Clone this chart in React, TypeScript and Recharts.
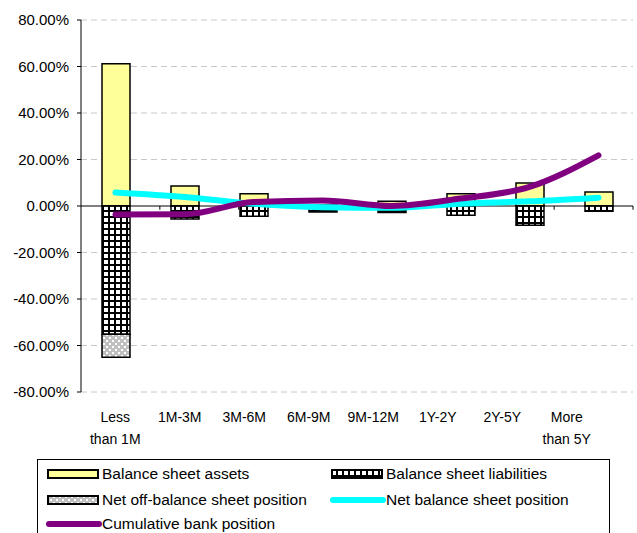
import React from "react";
import {
  Bar,
  CartesianGrid,
  ComposedChart,
  Line,
  ReferenceLine,
  XAxis,
  YAxis,
} from "recharts";

const CATEGORIES = [
  "Less than 1M",
  "1M-3M",
  "3M-6M",
  "6M-9M",
  "9M-12M",
  "1Y-2Y",
  "2Y-5Y",
  "More than 5Y",
];
const ASSETS = [61.2, 8.6, 5.3, 0.4, 2.0, 5.3, 9.9, 6.0];
const LIABILITIES = [-55.2, -5.6, -4.4, -2.6, -2.8, -4.0, -8.3, -2.3];
const OFF_BALANCE = [-9.8, 0, 0, 0, 0, 0, 0, 0];
const NET_BALANCE = [5.8, 3.9, 1.0, -0.5, -0.8, 1.0, 2.0, 3.6];
const CUMULATIVE = [-3.7, -3.6, 1.7, 2.4, 0.0, 3.2, 8.2, 21.8];
const Y_TICKS = [-80, -60, -40, -20, 0, 20, 40, 60, 80];

const data = CATEGORIES.map((name, i) => ({
  name,
  assets: ASSETS[i],
  liabilities: LIABILITIES[i],
  offBalance: OFF_BALANCE[i],
  net: NET_BALANCE[i],
  cumulative: CUMULATIVE[i],
}));

const FONT = "'Liberation Sans', Arial, sans-serif";
const YELLOW = "#ffff99";
const CYAN = "#00ffff";
const PURPLE = "#800080";

function Patterns({ prefix }: { prefix: string }) {
  return (
    <defs>
      <pattern id={`${prefix}grid`} width="6" height="6" patternUnits="userSpaceOnUse">
        <rect width="6" height="6" fill="#000" />
        <rect x="2" y="2" width="4" height="4" fill="#fff" />
      </pattern>
      <pattern id={`${prefix}dots`} width="6" height="6" patternUnits="userSpaceOnUse">
        <rect width="6" height="6" fill="#c0c0c0" />
        <rect x="1" y="1" width="2" height="2" fill="#fff" />
        <rect x="4" y="4" width="2" height="2" fill="#fff" />
      </pattern>
    </defs>
  );
}

// category names with a space wrap onto two lines, like the original
function XTick(props: any) {
  const { x, y, payload } = props;
  const label: string = payload.value;
  const sp = label.indexOf(" ");
  const lines = sp > 0 ? [label.slice(0, sp), label.slice(sp + 1)] : [label];
  return (
    <text x={x} y={y} textAnchor="middle" fontSize={14} fontFamily={FONT} fill="#000">
      {lines.map((l, i) => (
        <tspan key={i} x={x} dy={i === 0 ? -8 : 22}>
          {l}
        </tspan>
      ))}
    </text>
  );
}

function LegendSwatch({ kind }: { kind: string }) {
  if (kind === "net" || kind === "cum") {
    return (
      <svg width={56} height={10} style={{ display: "block" }}>
        <line x1={3} y1={5} x2={53} y2={5} stroke={kind === "net" ? CYAN : PURPLE} strokeWidth={6} strokeLinecap="round" />
      </svg>
    );
  }
  const fill = kind === "assets" ? YELLOW : kind === "liab" ? "url(#lg-grid)" : "url(#lg-dots)";
  return (
    <svg width={56} height={10} style={{ display: "block" }}>
      <Patterns prefix="lg-" />
      <rect x={2} y={1} width={50} height={8} fill={fill} stroke="#000" strokeWidth={2} />
    </svg>
  );
}

function LegendItem({ kind, label, left, top }: { kind: string; label: string; left: number; top: number }) {
  return (
    <div style={{ position: "absolute", left, top, display: "flex", alignItems: "center", whiteSpace: "nowrap" }}>
      <LegendSwatch kind={kind} />
      <span style={{ fontSize: 15.5, fontFamily: FONT, lineHeight: "18px" }}>{label}</span>
    </div>
  );
}

export default function App() {
  return (
    <div
      style={{
        position: "absolute",
        left: 0,
        top: 0,
        width: 637,
        height: 533,
        overflow: "hidden",
        background: "#fff",
      }}
    >
      <ComposedChart
        width={637}
        height={533}
        data={data}
        stackOffset="sign"
        margin={{ top: 20, right: 4, bottom: 81, left: 0 }}
        barSize={28}
      >
        <Patterns prefix="ch-" />
        <CartesianGrid
          vertical={false}
          stroke="#c8c8c8"
          strokeDasharray="6 4"
          horizontalValues={Y_TICKS.filter((t) => t !== 0)}
        />
        <XAxis dataKey="name" hide />
        <XAxis xAxisId="num" type="number" domain={[0, CATEGORIES.length]} hide />
        <XAxis
          xAxisId="lab"
          dataKey="name"
          axisLine={false}
          tickLine={false}
          interval={0}
          height={60}
          padding={{ left: 2, right: 34 }}
          tick={<XTick />}
        />
        <YAxis
          width={81}
          domain={[-80, 80]}
          ticks={Y_TICKS}
          interval={0}
          tickFormatter={(v: number) => `${v.toFixed(2)}%`}
          axisLine={{ stroke: "#000", strokeWidth: 1 }}
          tickLine={{ stroke: "#000" }}
          tickSize={4}
          tickMargin={8}
          tick={{ fontSize: 15, fontFamily: FONT, fill: "#000" }}
        />
        <Bar dataKey="assets" stackId="a" fill={YELLOW} stroke="#000" strokeWidth={1.5} isAnimationActive={false} />
        <Bar dataKey="liabilities" stackId="a" fill="url(#ch-grid)" stroke="#000" strokeWidth={1.5} isAnimationActive={false} />
        <Bar dataKey="offBalance" stackId="a" fill="url(#ch-dots)" stroke="#000" strokeWidth={1.5} isAnimationActive={false} />
        <ReferenceLine y={0} stroke="#000" strokeWidth={1} />
        {CATEGORIES.map((c, i) => (
          <ReferenceLine
            key={c}
            xAxisId="num"
            stroke="#000"
            segment={[
              { x: i + 1, y: 0 },
              { x: i + 1, y: -1.6 },
            ]}
          />
        ))}
        <Line
          type="monotone"
          dataKey="net"
          stroke={CYAN}
          strokeWidth={6}
          strokeLinecap="round"
          dot={false}
          activeDot={false}
          isAnimationActive={false}
        />
        <Line
          type="monotone"
          dataKey="cumulative"
          stroke={PURPLE}
          strokeWidth={6}
          strokeLinecap="round"
          dot={false}
          activeDot={false}
          isAnimationActive={false}
        />
      </ComposedChart>
      <div
        style={{
          position: "absolute",
          left: 37,
          top: 459,
          width: 573,
          height: 90,
          border: "1px solid #000",
          boxSizing: "border-box",
        }}
      >
        <LegendItem kind="assets" label="Balance sheet assets" left={8} top={5} />
        <LegendItem kind="liab" label="Balance sheet liabilities" left={292} top={5} />
        <LegendItem kind="off" label="Net off-balance sheet position" left={8} top={31} />
        <LegendItem kind="net" label="Net balance sheet position" left={292} top={31} />
        <LegendItem kind="cum" label="Cumulative bank position" left={8} top={55} />
      </div>
    </div>
  );
}
